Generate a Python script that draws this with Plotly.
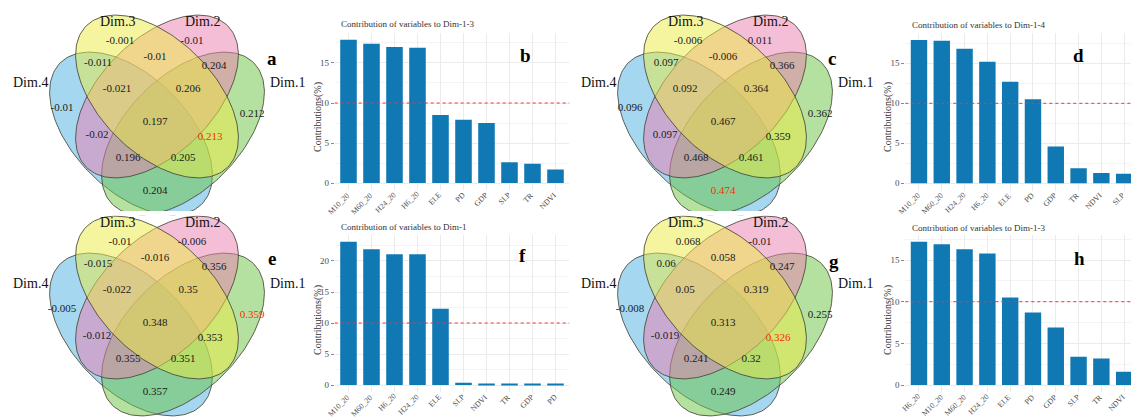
import numpy as np
import plotly.graph_objects as go

W, H = 1131, 417
FONT = "Liberation Serif"

# ---------------- bar chart data ----------------
b_cats = ["M10_20", "M60_20", "H24_20", "H6_20", "ELE", "PD", "GDP", "SLP", "TR", "NDVI"]
b_vals = [17.9, 17.4, 17.0, 16.9, 8.5, 7.9, 7.5, 2.6, 2.4, 1.7]
d_cats = ["M10_20", "M60_20", "H24_20", "H6_20", "ELE", "PD", "GDP", "TR", "NDVI", "SLP"]
d_vals = [17.9, 17.8, 16.8, 15.2, 12.7, 10.5, 4.6, 1.9, 1.3, 1.2]
f_cats = ["M10_20", "M60_20", "H6_20", "H24_20", "ELE", "SLP", "NDVI", "TR", "GDP", "PD"]
f_vals = [23.1, 21.9, 21.1, 21.1, 12.3, 0.35, 0.25, 0.25, 0.08, 0.08]
h_cats = ["H6_20", "M10_20", "M60_20", "H24_20", "ELE", "PD", "GDP", "SLP", "TR", "NDVI"]
h_vals = [17.2, 16.9, 16.3, 15.8, 10.5, 8.7, 6.9, 3.4, 3.2, 1.6]
bar_titles = {
    "b": "Contribution of variables to Dim-1-3",
    "d": "Contribution of variables to Dim-1-4",
    "f": "Contribution of variables to Dim-1",
    "h": "Contribution of variables to Dim-1-3",
}
threshold = 10

# ---------------- Venn data ----------------
set_names = ["Dim.1", "Dim.2", "Dim.3", "Dim.4"]
region_keys = ["3", "2", "23", "34", "12", "234", "123", "4", "1", "1234", "24", "13", "124", "134", "14"]
venn_a = [-0.001, -0.01, -0.01, -0.011, 0.204, -0.021, 0.206, -0.01, 0.212, 0.197, -0.02, 0.213, 0.196, 0.205, 0.204]
venn_c = [-0.006, 0.011, -0.006, 0.097, 0.366, 0.092, 0.364, 0.096, 0.362, 0.467, 0.097, 0.359, 0.468, 0.461, 0.474]
venn_e = [-0.01, -0.006, -0.016, -0.015, 0.356, -0.022, 0.35, -0.005, 0.359, 0.348, -0.012, 0.353, 0.355, 0.351, 0.357]
venn_g = [0.068, -0.01, 0.058, 0.06, 0.247, 0.05, 0.319, -0.008, 0.255, 0.313, -0.019, 0.326, 0.241, 0.32, 0.249]

# ---------------- layout constants (pixels) ----------------
region_xy = {
    "3": (120, 41), "2": (192, 41), "23": (155, 57), "34": (98, 63), "12": (214, 66),
    "234": (117, 89), "123": (188, 89), "4": (62, 108), "1": (252, 114), "1234": (155, 122),
    "24": (97, 135), "13": (210, 137), "124": (128, 158), "134": (183, 158), "14": (155, 191),
}
set_label_xy = {"Dim.3": (117, 21), "Dim.2": (202, 21), "Dim.4": (30, 82), "Dim.1": (287, 82)}
ellipses = [
    ("Dim.4", 131, 133.5, 100, 57, 45, "rgba(75,175,225,0.5)"),
    ("Dim.1", 183, 133.5, 100, 57, -45, "rgba(105,195,65,0.5)"),
    ("Dim.2", 157, 96.5, 100, 57, -45, "rgba(235,125,175,0.5)"),
    ("Dim.3", 157, 96.5, 100, 57, 45, "rgba(235,235,65,0.5)"),
]
venn_panels = [("a", venn_a, 0, 0, (272, 58)), ("c", venn_c, 568, 0, (832, 58)),
               ("e", venn_e, 0, 201, (272, 258)), ("g", venn_g, 568, 201, (834, 261))]

bar_panels = [
    ("b", b_cats, b_vals, (334.7, 569.3, 32.6, 190.2), 9.6, (339, 24), (318, 117), (525, 55)),
    ("d", d_cats, d_vals, (905.3, 1131, 32.9, 190.5), 9.3, (910, 25), (888, 117), (1078, 55)),
    ("f", f_cats, f_vals, (334.7, 569.3, 234.6, 392.2), 9.6, (339, 227), (318, 320), (522, 256)),
    ("h", h_cats, h_vals, (905.3, 1131, 234.6, 392.2), 9.3, (910, 228), (888, 320), (1079, 258)),
]

BAR_COLOR = "#1078b2"
fig = go.Figure()
annotations = []
shapes = []
layout_axes = {}

# ---- Venn diagrams in a full-figure pixel axis ----
t = np.linspace(0, 2 * np.pi, 181)
for letter, vals, ox, oy, lxy in venn_panels:
    for name, cx, cy, A, B, ang, fill in ellipses:
        th = np.deg2rad(ang)
        xs = ox + cx + A * np.cos(t) * np.cos(th) - B * np.sin(t) * np.sin(th)
        ys = oy + cy + A * np.cos(t) * np.sin(th) + B * np.sin(t) * np.cos(th)
        fig.add_trace(go.Scatter(x=xs, y=ys, mode="lines", fill="toself", fillcolor=fill,
                                 line=dict(color="rgba(70,70,55,0.85)", width=1),
                                 hoverinfo="skip", showlegend=False, xaxis="x5", yaxis="y5"))
    vmax = max(vals)
    fig.add_trace(go.Scatter(
        x=[ox + region_xy[k][0] for k in region_keys],
        y=[oy + region_xy[k][1] for k in region_keys],
        text=[f"{v:g}" for v in vals], mode="text",
        textfont=dict(family=FONT, size=11,
                      color=["#ff2a00" if v == vmax else "#1a1a1a" for v in vals]),
        hoverinfo="skip", showlegend=False, xaxis="x5", yaxis="y5"))
    for name in set_names:
        sx, sy = set_label_xy[name]
        annotations.append(dict(x=(ox + sx) / W, y=1 - (oy + sy) / H, xref="paper", yref="paper",
                                text=name, showarrow=False, xanchor="center", yanchor="middle",
                                font=dict(family=FONT, size=14, color="#111")))
    annotations.append(dict(x=lxy[0] / W, y=1 - lxy[1] / H, xref="paper", yref="paper",
                            text=f"<b>{letter}</b>", showarrow=False, xanchor="center", yanchor="middle",
                            font=dict(family=FONT, size=19, color="#000")))
    if oy == 0:
        # the upper Venn pictures are cut off where the lower ones begin
        shapes.append(dict(type="rect", xref="x5", yref="y5", x0=ox, x1=ox + 300, y0=211, y1=215.5,
                           fillcolor="white", line=dict(width=0), layer="above"))

layout_axes["xaxis5"] = dict(domain=[0, 1], range=[0, W], visible=False, fixedrange=True)
layout_axes["yaxis5"] = dict(domain=[0, 1], range=[H, 0], visible=False, fixedrange=True)

# ---- bar charts ----
for i, (letter, cats, vals, px, xmax, txy, ytxy, lxy) in enumerate(bar_panels, start=1):
    xa = "x" if i == 1 else f"x{i}"
    ya = "y" if i == 1 else f"y{i}"
    left, right, top, bottom = px
    fig.add_trace(go.Bar(x=cats, y=vals, marker=dict(color=BAR_COLOR, line=dict(width=0)),
                         width=0.72, xaxis=xa, yaxis=ya, showlegend=False))
    m = max(vals)
    ymin, ymax = -0.05 * m, 1.05 * m
    zero_px = bottom - (0 - ymin) / (ymax - ymin) * (bottom - top)
    layout_axes[f"xaxis{'' if i == 1 else i}"] = dict(
        domain=[left / W, right / W], anchor=ya, range=[-0.6, xmax], type="category",
        categoryorder="array", categoryarray=cats, showticklabels=False, ticks="",
        showgrid=True, gridcolor="#ebebeb", gridwidth=1,
        showline=False, zeroline=False, fixedrange=True)
    layout_axes[f"yaxis{'' if i == 1 else i}"] = dict(
        domain=[1 - bottom / H, 1 - top / H], anchor=xa, range=[ymin, ymax],
        dtick=5, tick0=0, tickfont=dict(family=FONT, size=9, color="#4d4d4d"),
        ticks="outside", ticklen=3, tickcolor="#888888",
        showgrid=True, gridcolor="#ebebeb", gridwidth=1,
        minor=dict(dtick=2.5, showgrid=True, gridcolor="#f4f4f4"),
        zeroline=False, showline=False, fixedrange=True)
    # rotated category labels
    for c in cats:
        annotations.append(dict(x=c, xref=xa, y=1 - (zero_px + 4.5) / H, yref="paper",
                                text=c, textangle=-45, showarrow=False, xanchor="right", yanchor="top",
                                xshift=6, font=dict(family=FONT, size=7.8, color="#4d4d4d")))
    shapes.append(dict(type="line", xref=f"{xa} domain", yref=ya, x0=0, x1=1, y0=threshold, y1=threshold,
                       line=dict(color="#e8383b", width=1, dash="dot")))
    annotations.append(dict(x=txy[0] / W, y=1 - txy[1] / H, xref="paper", yref="paper",
                            text=bar_titles[letter], showarrow=False, xanchor="left", yanchor="middle",
                            font=dict(family=FONT, size=9, color="#333")))
    annotations.append(dict(x=ytxy[0] / W, y=1 - ytxy[1] / H, xref="paper", yref="paper",
                            text="Contributions(%)", textangle=-90, showarrow=False,
                            xanchor="center", yanchor="middle",
                            font=dict(family=FONT, size=10, color="#333")))
    annotations.append(dict(x=lxy[0] / W, y=1 - lxy[1] / H, xref="paper", yref="paper",
                            text=f"<b>{letter}</b>", showarrow=False, xanchor="center", yanchor="middle",
                            font=dict(family=FONT, size=19, color="#000")))

fig.update_layout(
    width=W, height=H, margin=dict(l=0, r=0, t=0, b=0),
    paper_bgcolor="white", plot_bgcolor="rgba(0,0,0,0)",
    bargap=0.28, annotations=annotations, shapes=shapes, showlegend=False,
    **layout_axes,
)
fig.write_html("out.html", config={"displayModeBar": False},
               post_script="document.body.style.margin='0';document.body.style.overflow='hidden';")
